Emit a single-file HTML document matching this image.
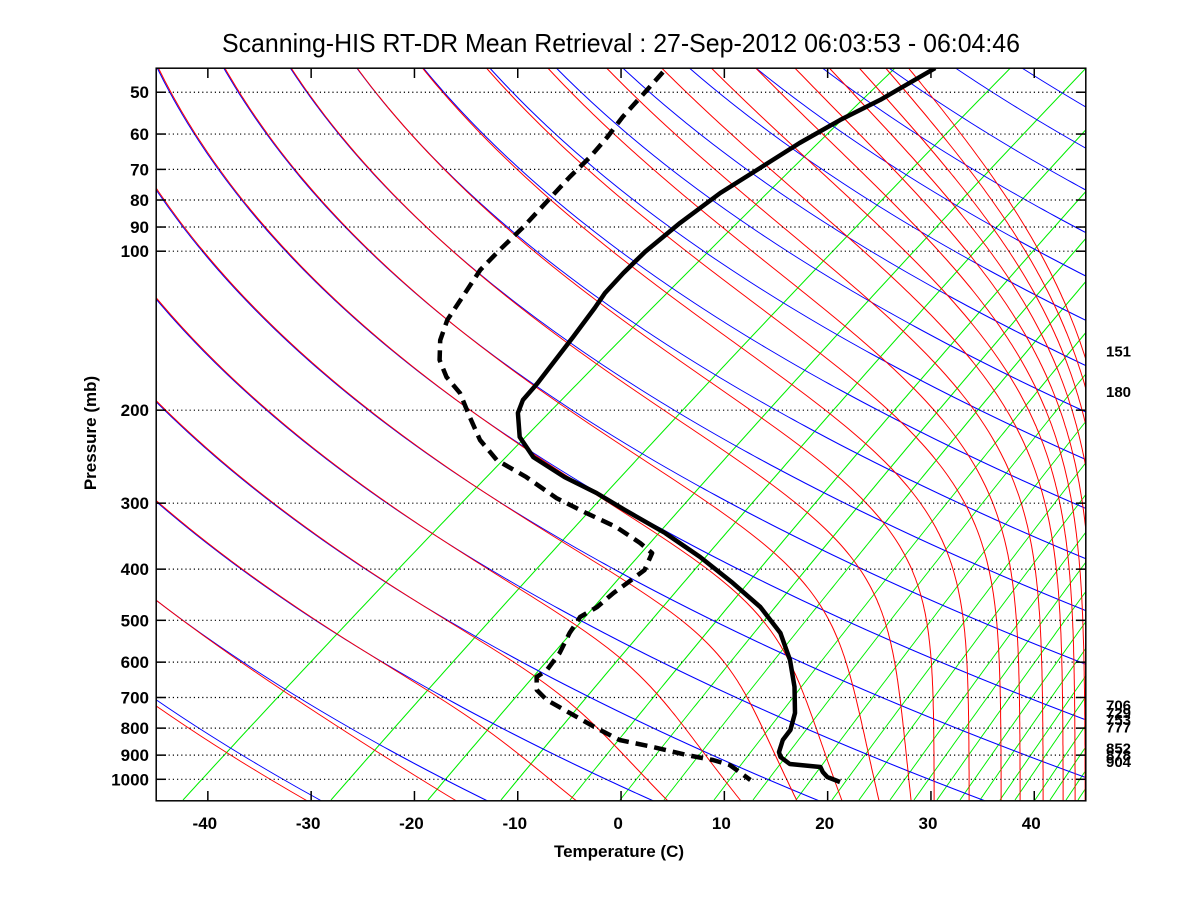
<!DOCTYPE html>
<html>
<head>
<meta charset="utf-8">
<style>
  html, body { margin: 0; padding: 0; background: #fff; }
  svg { display: block; }
  text { font-family: "Liberation Sans", "DejaVu Sans", sans-serif; fill: #000; }
  .tick { font-weight: bold; font-size: 17px; }
  .rlab { font-weight: bold; font-size: 15px; }
</style>
</head>
<body>
<svg id="chart" width="1200" height="900" viewBox="0 0 1200 900" xmlns="http://www.w3.org/2000/svg">
  <rect x="0" y="0" width="1200" height="900" fill="#fff"/>
  <defs>
    <clipPath id="plotclip"><rect x="156.2" y="68.2" width="929.6" height="732.6"/></clipPath>
  </defs>
  <text x="222" y="52" font-size="26" textLength="798" lengthAdjust="spacingAndGlyphs">Scanning-HIS RT-DR Mean Retrieval : 27-Sep-2012 06:03:53 - 06:04:46</text>
  <g id="bg-lines" clip-path="url(#plotclip)"></g>
  <g id="grid"></g>
  <g id="profiles" clip-path="url(#plotclip)"></g>
  <rect x="156.2" y="68.2" width="929.6" height="732.6" fill="none" stroke="#000" stroke-width="1.5"/>
  <g id="axes"></g>
  <text transform="translate(96,433) rotate(-90)" text-anchor="middle" class="tick" font-size="16">Pressure (mb)</text>
  <text x="619" y="857" text-anchor="middle" class="tick">Temperature (C)</text>
</svg>
<script>
// ---- data ----
const tempPressure = [45.0,51.7,56.4,62.4,69.6,77.6,88.4,100.3,110.0,120.0,128.1,145.4,177.7,191.3,202.5,224.8,245.4,267.8,287.0,309.2,341.8,379.4,424.8,471.7,528.4,594.3,668.5,748.8,806.7,842.6,888.0,907.4,935.5,947.8,968.7,990.0,1011.8];
const tempValues = [-50.4,-52.1,-53.7,-55.0,-56.0,-57.0,-57.5,-57.6,-57.3,-56.8,-56.1,-54.9,-53.1,-52.6,-51.6,-48.7,-45.1,-39.8,-34.9,-30.2,-23.7,-17.6,-11.5,-6.1,-1.2,2.8,6.3,9.3,10.8,11.2,12.2,12.9,14.6,17.9,18.7,19.7,21.5];
const dewPressure = [45.8,49.5,55.7,60.8,66.3,72.4,76.6,90.0,99.5,108.5,123.7,135.0,147.4,160.7,173.1,185.5,206.1,227.8,248.6,267.8,293.4,313.3,333.0,356.9,372.9,401.6,424.8,443.7,471.7,492.8,528.4,576.6,620.9,640.2,677.5,707.7,748.8,799.8,842.6,868.6,899.5,919.3,939.5,1003.0];
const dewValues = [-76.3,-75.8,-75.1,-74.3,-73.7,-73.4,-73.1,-72.2,-71.9,-71.5,-70.0,-69.0,-67.4,-65.2,-62.6,-59.5,-55.8,-52.2,-48.3,-43.5,-38.2,-33.6,-29.1,-25.0,-22.7,-21.5,-21.7,-21.9,-21.9,-22.4,-21.6,-20.3,-19.6,-19.8,-18.3,-16.2,-12.5,-8.2,-4.6,-0.6,3.6,6.7,8.9,12.6];
const pressureTicks = [50,60,70,80,90,100,200,300,400,500,600,700,800,900,1000];
const tempTicks = [-40,-30,-20,-10,0,10,20,30,40];
const levelLabels = [151,180,706,729,753,777,852,878,904];
// decorative background line families (screen-derived)
const greenBottom = [183,331,428,501,570,620,664,714,753,796,832,859,890,914,937,960,980,1000,1015,1035,1050,1066,1078];
const redBottom = [310,457,576,667,740,796,841,878,910,933,968,1000,1019,1042,1062,1074,1084,1093,1101,1108,1115,1121,1127,1132];
const redLean = [0.95,0.8,0.55,0.4,0.3,0.17,0.12,0.07,0.03,0,0,0,0,0,0,0,0,0,0,0,0,0,0,0];

const NS = "http://www.w3.org/2000/svg";
const X0 = 156.2, PXD = 10.33, Y1000 = 779.3, PXDEC = 528.1, SKEW = 60;
function yOf(p){ return Y1000 - PXDEC*Math.log10(1000/p); }
function pOf(y){ return 1000*Math.pow(10,(y-Y1000)/PXDEC); }
function xOf(T,p){ return X0 + PXD*(T + SKEW*Math.log10(1000/p) + 45); }
function xFlat(T){ return X0 + PXD*(T+45); }
function mk(tag, attrs, parent){
  const el = document.createElementNS(NS, tag);
  for (const k in attrs) el.setAttribute(k, attrs[k]);
  parent.appendChild(el); return el;
}
const bg = document.getElementById('bg-lines');

// green lines
greenBottom.forEach((xb)=>{
  const span = 712 - 0.22*(xb-183);
  let d='';
  for(let y=800;y>=60;y-=4){
    const t=(800-y)/732;
    const x = xb + span*(0.94*t+0.06*t*t);
    d += (y===800?'M':'L')+x.toFixed(1)+' '+y+' ';
  }
  const el = mk('path',{d:d,fill:'none',stroke:'#00ee00','stroke-width':1},bg);
  
  
});

// blue dry adiabats: x = A + K*u(p) + S*L(p)
const BA=-2099.9, BS=650.7, K0=2383, DK=161.5;
function xBlue(n,p){
  const L=Math.log10(1000/p), u=Math.pow(p/1000,0.286);
  return BA + (K0+DK*n)*u + BS*L;
}
const NB = 22;
for(let n=0;n<NB;n++){
  let d='';
  for(let y=60;y<=804;y+=3){
    const x=xBlue(n,pOf(y));
    d += (y===60?'M':'L')+x.toFixed(1)+' '+y+' ';
  }
  const el = mk('path',{d:d,fill:'none',stroke:'#0000ff','stroke-width':1},bg);
  
  
}
// red moist adiabats: near-vertical near bottom, merging into paired dry adiabat aloft
for(let n=0;n<NB && n<redBottom.length;n++){
  const xr0 = redBottom[n];
  const xb0 = xBlue(n,1100);
  const D = xb0 - xr0;
  const tau = 0.12*D + 10;
  const f = redLean[n];
  let d='';
  for(let y=60;y<=804;y+=3){
    const xb=xBlue(n,pOf(y));
    const xv = xr0 + (xb-xb0)*f;
    const h = xb - xv;
    const z = -h/tau;
    const sp = z>30 ? z : Math.log(1+Math.exp(z));
    const x = xv - tau*sp + 1.2;
    d += (y===60?'M':'L')+x.toFixed(1)+' '+y+' ';
  }
  const el = mk('path',{d:d,fill:'none',stroke:'#ff0000','stroke-width':1},bg);
  
  
}

// grid + axes ticks
const grid=document.getElementById('grid'), axes=document.getElementById('axes');
pressureTicks.forEach(p=>{
  const y=yOf(p);
  const g=mk('line',{x1:156,x2:1086,y1:y,y2:y,stroke:'#000','stroke-width':1.2,'stroke-dasharray':'1.2 3'},grid);
  
  
  const t1=mk('line',{x1:156,x2:166,y1:y,y2:y,stroke:'#000','stroke-width':1.5},axes);
  
  
  const t2=mk('line',{x1:1076,x2:1086,y1:y,y2:y,stroke:'#000','stroke-width':1.5},axes);
  
  
  const lb=mk('text',{x:149,y:y+6,'text-anchor':'end',class:'tick'},axes);
  lb.textContent=p;
  
  
});
tempTicks.forEach(T=>{
  const x=xFlat(T);
  const t1=mk('line',{x1:x,x2:x,y1:791,y2:801,stroke:'#000','stroke-width':1.5},axes);
  
  
  const t2=mk('line',{x1:x,x2:x,y1:68,y2:78,stroke:'#000','stroke-width':1.5},axes);
  
  
  const lb=mk('text',{x:x-3,y:829,'text-anchor':'middle',class:'tick'},axes);
  lb.textContent=T;
  
  
});
levelLabels.forEach(p=>{
  const lb=mk('text',{x:1106,y:yOf(p)+11,class:'rlab'},axes);
  lb.textContent=p;
  
  
});

// profiles
const prof=document.getElementById('profiles');
function pathOf(ps,ts){ return ps.map((p,i)=>(i?'L':'M')+xOf(ts[i],p).toFixed(1)+' '+yOf(p).toFixed(1)).join(' '); }
const dew=mk('path',{d:pathOf(dewPressure,dewValues),fill:'none',stroke:'#000','stroke-width':4.5,'stroke-dasharray':'12 7','stroke-linejoin':'round'},prof);


const tmp=mk('path',{d:pathOf(tempPressure,tempValues),fill:'none',stroke:'#000','stroke-width':4.5,'stroke-linejoin':'round'},prof);


</script>
</body>
</html>
